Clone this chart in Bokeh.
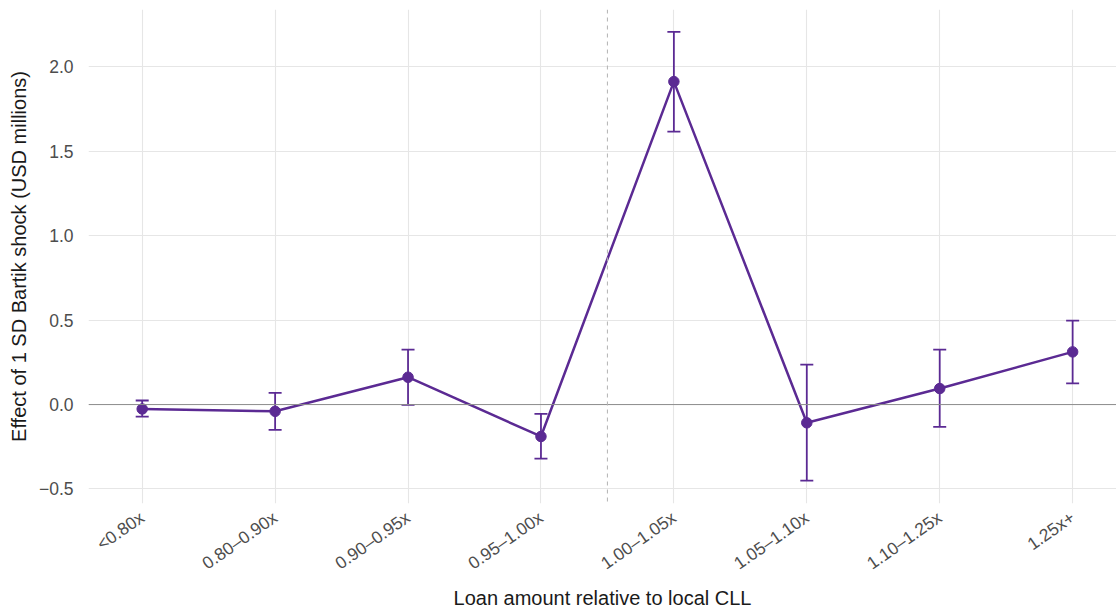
import math

from bokeh.embed import file_html
from bokeh.models import ColumnDataSource, FixedTicker, Range1d, Span, TeeHead, Whisker
from bokeh.plotting import figure
from bokeh.resources import INLINE

# Loan-size bins relative to the local conforming loan limit (CLL)
categories = ["<0.80x", "0.80\u20130.90x", "0.90\u20130.95x", "0.95\u20131.00x",
              "1.00\u20131.05x", "1.05\u20131.10x", "1.10\u20131.25x", "1.25x+"]
# Point estimates and 95% confidence bounds (USD millions)
estimate = [-0.026, -0.040, 0.162, -0.189, 1.913, -0.108, 0.095, 0.312]
ci_low = [-0.071, -0.150, -0.002, -0.320, 1.617, -0.451, -0.132, 0.126]
ci_high = [0.024, 0.069, 0.325, -0.055, 2.207, 0.237, 0.325, 0.497]
y_ticks = [-0.5, 0.0, 0.5, 1.0, 1.5, 2.0]

PURPLE = "#5b2a93"
FONT = "Liberation Sans"

xpos = list(range(1, len(categories) + 1))
src = ColumnDataSource(dict(x=xpos, est=estimate, lo=ci_low, hi=ci_high))

p = figure(
    width=1116, height=611,
    x_range=Range1d(0.596, 8.33), y_range=Range1d(-0.586, 2.340),
    output_backend="svg", toolbar_location=None,
    min_border_left=88, min_border_right=0, min_border_top=9, min_border_bottom=108,
)
p.outline_line_color = None
p.background_fill_color = "white"
p.border_fill_color = "white"

# grid
p.xgrid.ticker = FixedTicker(ticks=xpos)
p.ygrid.ticker = FixedTicker(ticks=y_ticks)
for g in (p.xgrid[0], p.ygrid[0]):
    g.grid_line_color = "#e6e6e6"
    g.grid_line_width = 1.1

# axes
p.xaxis.ticker = FixedTicker(ticks=xpos)
p.xaxis.major_label_overrides = {x: c for x, c in zip(xpos, categories)}
p.xaxis.major_label_orientation = math.radians(35)
p.yaxis.ticker = FixedTicker(ticks=y_ticks)
p.yaxis.major_label_overrides = {t: (f"{t:.1f}".replace("-", "\u2212")) for t in y_ticks}
for ax in (p.xaxis[0], p.yaxis[0]):
    ax.axis_line_color = None
    ax.major_tick_line_color = None
    ax.minor_tick_line_color = None
    ax.major_label_text_font = FONT
    ax.major_label_text_font_size = "17.5px"
    ax.major_label_text_color = "#4d4d4d"
    ax.axis_label_text_font = FONT
    ax.axis_label_text_font_size = "20px"
    ax.axis_label_text_font_style = "normal"
    ax.axis_label_text_color = "#1a1a1a"
p.xaxis.axis_label = "Loan amount relative to local CLL"
p.yaxis.axis_label = "Effect of 1 SD Bartik shock (USD millions)"
p.xaxis.major_label_standoff = 6
p.yaxis.major_label_standoff = 9
p.xaxis.axis_label_standoff = 2
p.yaxis.axis_label_standoff = 6

# reference lines: zero and the CLL threshold
p.add_layout(Span(location=0, dimension="width", line_color="#8c8c8c", line_width=1))
p.add_layout(Span(location=4.5, dimension="height", line_color="#b3b3b3",
                  line_width=1, line_dash="4 4"))

# confidence intervals
whisk = Whisker(source=src, base="x", lower="lo", upper="hi",
                line_color=PURPLE, line_width=1.8,
                lower_head=TeeHead(size=13, line_color=PURPLE, line_width=1.8),
                upper_head=TeeHead(size=13, line_color=PURPLE, line_width=1.8))
p.add_layout(whisk)

p.line("x", "est", source=src, line_color=PURPLE, line_width=2.5)
p.scatter("x", "est", source=src, size=10.5, fill_color=PURPLE, line_color=PURPLE)

open("out.html", "w").write(file_html(p, INLINE))
